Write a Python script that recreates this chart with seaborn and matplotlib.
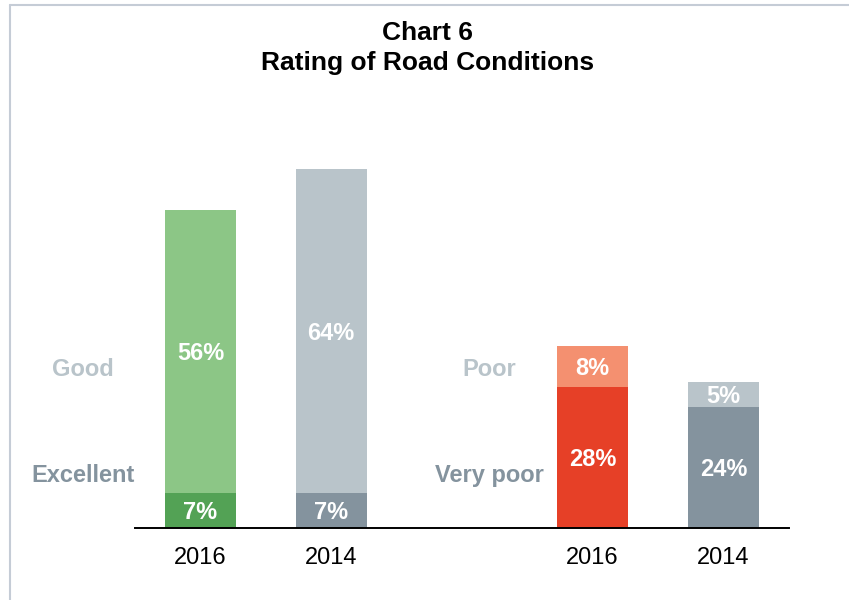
import numpy as np
import pandas as pd
import matplotlib.pyplot as plt
from matplotlib.lines import Line2D
import seaborn as sns

# chart data
years = ["2016", "2014"]
lower_names = ["Excellent", "Very poor"]
upper_names = ["Good", "Poor"]
lower_values = [[7, 7], [28, 24]]
upper_values = [[56, 64], [8, 5]]

lower_colors = [["#53a255", "#84939e"], ["#e64027", "#84939e"]]
upper_colors = [["#8cc686", "#b9c4ca"], ["#f49070", "#b9c4ca"]]
name_colors = {"lower": "#84939e", "upper": "#b9c4ca"}

sns.set_style("white")
plt.rcParams['font.family'] = ['Liberation Sans', 'DejaVu Sans']
plt.rcParams['text.color'] = 'black'

# one row per bar, two groups with an empty slot between them
rows = []
for g in range(len(lower_names)):
    for i, yr in enumerate(years):
        rows.append(dict(pos=g * 3 + i, year=yr, key=f"{g}-{yr}",
                         lower=lower_values[g][i], upper=upper_values[g][i],
                         lower_col=lower_colors[g][i], upper_col=upper_colors[g][i]))
df = pd.DataFrame(rows)
df["total"] = df["lower"] + df["upper"]

fig = plt.figure(figsize=(8.49, 6.0), dpi=100)
ax = fig.add_axes([135 / 849, 0.12, 653.75 / 849, 75 * 5.05 / 600])

bar_w = 0.543
sns.barplot(data=df, x="pos", y="total", hue="key",
            palette=dict(zip(df.key, df.upper_col)), native_scale=True,
            dodge=False, width=bar_w, saturation=1, errorbar=None,
            legend=False, linewidth=0, ax=ax)
sns.barplot(data=df, x="pos", y="lower", hue="key",
            palette=dict(zip(df.key, df.lower_col)), native_scale=True,
            dodge=False, width=bar_w, saturation=1, errorbar=None,
            legend=False, linewidth=0, ax=ax)

# value labels inside segments
for _, r in df.iterrows():
    ax.text(r.pos, r.lower / 2, f"{r.lower}%", ha="center", va="center_baseline",
            color="white", fontsize=17, fontweight="bold")
    ax.text(r.pos, r.lower + r.upper / 2, f"{r.upper}%", ha="center",
            va="center_baseline", color="white", fontsize=17, fontweight="bold")

# category names left of each group
label_x = [-0.9, 2.21]
for g in range(len(lower_names)):
    ax.text(label_x[g], 9.2, lower_names[g], ha="center", va="baseline",
            color=name_colors["lower"], fontsize=17, fontweight="bold")
    ax.text(label_x[g], 30.1, upper_names[g], ha="center", va="baseline",
            color=name_colors["upper"], fontsize=17, fontweight="bold")

ax.set_xlim(-0.5, 4.5)
ax.set_ylim(0, 75)
ax.set_xticks(df.pos)
ax.set_xticklabels(df.year)
ax.set_yticks([])
ax.set_xlabel("")
ax.set_ylabel("")
ax.tick_params(axis="x", length=0, pad=14, labelsize=17, labelcolor="black")
for s in ["left", "top", "right"]:
    ax.spines[s].set_visible(False)
ax.spines["bottom"].set_color("black")
ax.spines["bottom"].set_linewidth(1.4)

fig.text(427.5 / 849, 1 - 40 / 600, "Chart 6", ha="center", va="baseline",
         fontsize=19, fontweight="bold", color="black")
fig.text(427.5 / 849, 1 - 70 / 600, "Rating of Road Conditions", ha="center",
         va="baseline", fontsize=19, fontweight="bold", color="black")

# light frame on the left and top
frame_col = "#c5ccd6"
fig.add_artist(Line2D([10 / 849, 10 / 849], [0, 1 - 5 / 600],
                      transform=fig.transFigure, color=frame_col, lw=1.5))
fig.add_artist(Line2D([10 / 849, 1], [1 - 5 / 600, 1 - 5 / 600],
                      transform=fig.transFigure, color=frame_col, lw=1.5))

fig.savefig("out.png", dpi=100)
